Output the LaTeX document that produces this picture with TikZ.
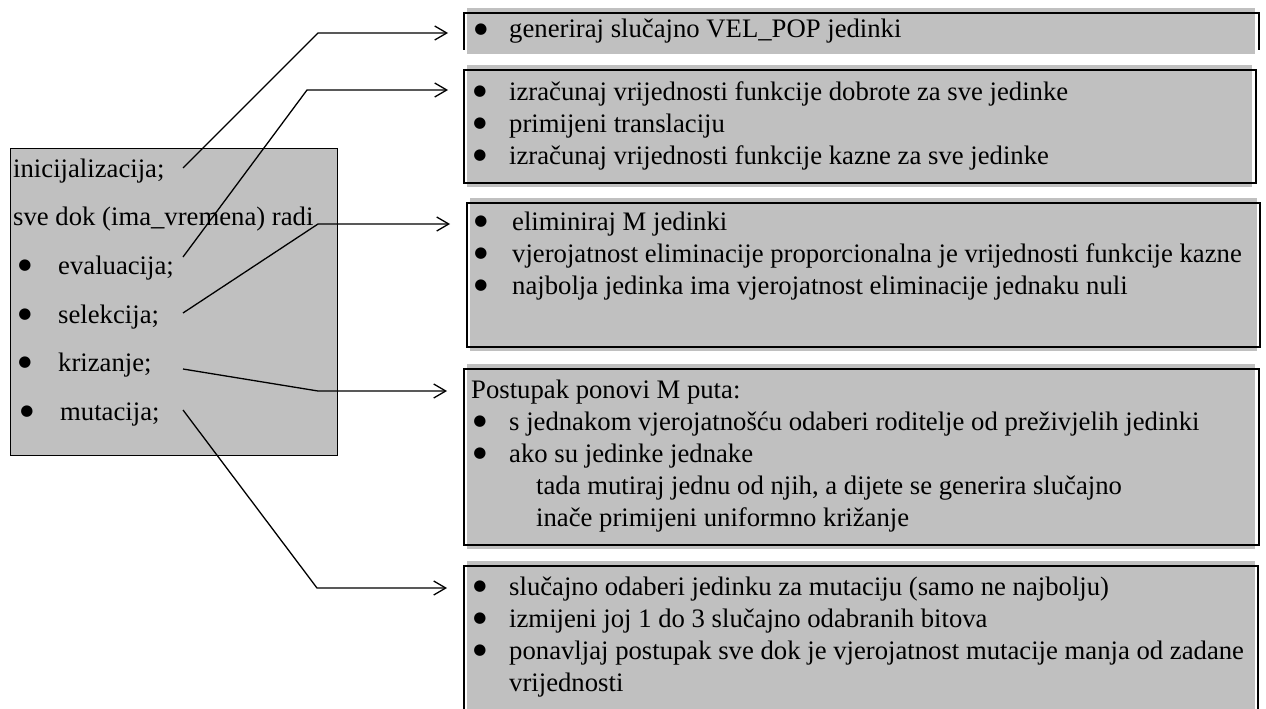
\documentclass[tikz,border=0pt]{standalone}
\usepackage{fontspec}
\setmainfont{Liberation Serif}
\newfontfamily\bulletfont{DejaVu Sans}
\usetikzlibrary{arrows.meta}
\definecolor{boxgray}{HTML}{C0C0C0}
\begin{document}
\begin{tikzpicture}[x=1pt,y=-1pt,
  txt/.style={inner sep=0pt, anchor=base west, font=\fontsize{26.7}{32}\selectfont},
  blt/.style={inner sep=0pt, anchor=base, yshift=4.5pt, font=\bulletfont\fontsize{15}{15}\selectfont},
  gfill/.style={fill=boxgray, draw=none, inner sep=0pt, outer sep=0pt, anchor=north west},
  bord/.style={draw=black, line width=2.7pt, inner sep=0pt, outer sep=0pt, anchor=north west},
  openbord/.style={draw=black, line width=2.7pt, line join=miter},
  conn/.style={draw=black, line width=1.3pt, -{Straight Barb[length=12pt,width=14pt,line width=1.3pt]}},
]
\useasboundingbox (0,0) rectangle (1266,709);
\fill[white] (0,0) rectangle (1266,709);

% left box
\node[draw=black, line width=1.3pt, fill=boxgray, inner sep=0pt, anchor=north west,
      minimum width=327pt, minimum height=307pt] (main) at (10,148) {};
\node[txt] (l1) at (13,177) {inicijalizacija;};
\node[txt] (l2) at (13,225) {sve dok (ima\_vremena) radi};
\node[blt] (lb3) at (25,274) {●};
\node[txt] (l3) at (58,274) {evaluacija;};
\node[blt] (lb4) at (25,323) {●};
\node[txt] (l4) at (58,323) {selekcija;};
\node[blt] (lb5) at (25,371) {●};
\node[txt] (l5) at (58,371) {krizanje;};
\node[blt] (lb6) at (27,420) {●};
\node[txt] (l6) at (60,420) {mutacija;};

% right boxes: gray fills
\node[gfill, minimum width=788pt, minimum height=46pt] (g1) at (467,8) {};
\node[gfill, minimum width=785pt, minimum height=122pt] (g2) at (467,65) {};
\node[gfill, minimum width=787pt, minimum height=153pt] (g3) at (470,198) {};
\node[gfill, minimum width=788pt, minimum height=185pt] (g4) at (467,364) {};
\node[gfill, minimum width=788pt, minimum height=160pt] (g5) at (467,561) {};

% right boxes: borders
\draw[openbord] (464,50) -- (464,13) -- (1259,13) -- (1259,50);
\node[bord, minimum width=792pt, minimum height=113pt] (b2) at (464,70) {};
\node[bord, minimum width=793pt, minimum height=144pt] (b3) at (467,203) {};
\node[bord, minimum width=795pt, minimum height=176pt] (b4) at (464,369) {};
\draw[openbord] (464,725) -- (464,566) -- (1258,566) -- (1258,725);

% box 1 text
\node[blt] (r1b) at (481,38) {●};
\node[txt] (r1) at (509,38) {generiraj slučajno VEL\_POP jedinki};

% box 2 text
\node[blt] (r2b1) at (480,100) {●};
\node[txt] (r21) at (509,100) {izračunaj vrijednosti funkcije dobrote za sve jedinke};
\node[blt] (r2b2) at (480,132) {●};
\node[txt] (r22) at (509,132) {primijeni translaciju};
\node[blt] (r2b3) at (480,164) {●};
\node[txt] (r23) at (509,164) {izračunaj vrijednosti funkcije kazne za sve jedinke};

% box 3 text
\node[blt] (r3b1) at (481,230) {●};
\node[txt] (r31) at (512,230) {eliminiraj M jedinki};
\node[blt] (r3b2) at (481,262) {●};
\node[txt] (r32) at (512,262) {vjerojatnost eliminacije proporcionalna je vrijednosti funkcije kazne};
\node[blt] (r3b3) at (481,294) {●};
\node[txt] (r33) at (512,294) {najbolja jedinka ima vjerojatnost eliminacije jednaku nuli};

% box 4 text
\node[txt] (r40) at (471,398) {Postupak ponovi M puta:};
\node[blt] (r4b1) at (480,430) {●};
\node[txt] (r41) at (509,430) {s jednakom vjerojatnošću odaberi roditelje od preživjelih jedinki};
\node[blt] (r4b2) at (480,462) {●};
\node[txt] (r42) at (509,462) {ako su jedinke jednake};
\node[txt] (r43) at (536,494) {tada mutiraj jednu od njih, a dijete se generira slučajno};
\node[txt] (r44) at (536,526) {inače primijeni uniformno križanje};

% box 5 text
\node[blt] (r5b1) at (480,595) {●};
\node[txt] (r51) at (509,595) {slučajno odaberi jedinku za mutaciju (samo ne najbolju)};
\node[blt] (r5b2) at (480,627) {●};
\node[txt] (r52) at (509,627) {izmijeni joj 1 do 3 slučajno odabranih bitova};
\node[blt] (r5b3) at (480,659) {●};
\node[txt] (r53) at (509,659) {ponavljaj postupak sve dok je vjerojatnost mutacije manja od zadane};
\node[txt] (r54) at (509,691) {vrijednosti};

% connectors
\coordinate (s1) at (183,168); \coordinate (k1) at (318,33);  \coordinate (e1) at (448,33);
\coordinate (s2) at (183,257); \coordinate (k2) at (307,90);  \coordinate (e2) at (448,90);
\coordinate (s3) at (183,313); \coordinate (k3) at (318,224); \coordinate (e3) at (450,224);
\coordinate (s4) at (183,369); \coordinate (k4) at (318,391); \coordinate (e4) at (447,391);
\coordinate (s5) at (183,410); \coordinate (k5) at (317,588); \coordinate (e5) at (447,588);
\draw[conn] (s1) -- (k1) -- (e1);
\draw[conn] (s2) -- (k2) -- (e2);
\draw[conn] (s3) -- (k3) -- (e3);
\draw[conn] (s4) -- (k4) -- (e4);
\draw[conn] (s5) -- (k5) -- (e5);
\end{tikzpicture}
\end{document}
